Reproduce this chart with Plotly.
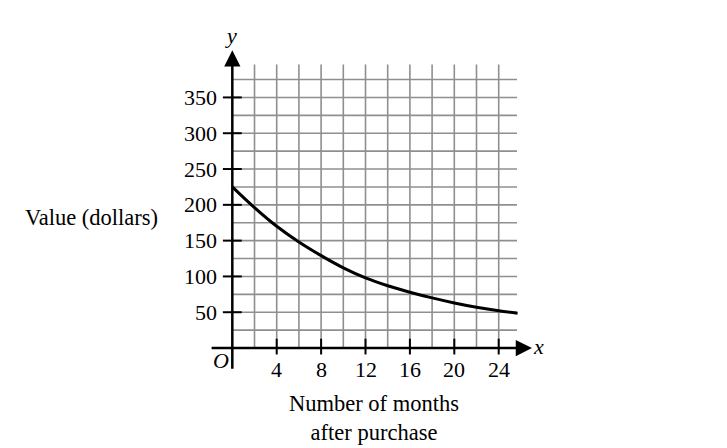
import plotly.graph_objects as go

# valores (meses após a compra x valor em dólares)
months = [0, 2, 4, 6, 8, 10, 12, 14, 16, 18, 20, 22, 24, 25.7]
value = [225, 196, 170, 148, 129, 112, 98, 87, 78, 70, 63, 57, 52, 48.5]

x_ticks = [4, 8, 12, 16, 20, 24]
y_ticks = [50, 100, 150, 200, 250, 300, 350]
x_grid = list(range(2, 25, 2))
y_grid = list(range(25, 376, 25))

FONT = "Liberation Serif"
GRID = "#8f8f8f"

fig = go.Figure()

shapes = []
# grade vertical e horizontal
for gx in x_grid:
    shapes.append(dict(type="line", x0=gx, x1=gx, y0=0, y1=396,
                       line=dict(color=GRID, width=1.6), layer="below"))
for gy in y_grid:
    shapes.append(dict(type="line", x0=0, x1=25.65, y0=gy, y1=gy,
                       line=dict(color=GRID, width=1.6), layer="below"))
# marcas dos eixos
for ty in y_ticks:
    shapes.append(dict(type="line", x0=-0.85, x1=0.85, y0=ty, y1=ty,
                       line=dict(color="black", width=2)))
for tx in x_ticks:
    shapes.append(dict(type="line", x0=tx, x1=tx, y0=-9, y1=13,
                       line=dict(color="black", width=2)))

fig.add_trace(go.Scatter(x=months, y=value, mode="lines",
                         line=dict(color="black", width=3, shape="spline"),
                         hoverinfo="skip"))

annotations = []
# eixos com setas
annotations.append(dict(x=0, y=416, ax=0, ay=-31, xref="x", yref="y",
                        axref="x", ayref="y", showarrow=True, arrowhead=2,
                        arrowsize=1.3, arrowwidth=2.5, arrowcolor="black", text=""))
annotations.append(dict(x=27.0, y=0, ax=-2.0, ay=0, xref="x", yref="y",
                        axref="x", ayref="y", showarrow=True, arrowhead=2,
                        arrowsize=1.3, arrowwidth=2.5, arrowcolor="black", text=""))

for ty in y_ticks:
    annotations.append(dict(x=-1.2, y=ty, xref="x", yref="y", text=str(ty),
                            showarrow=False, xanchor="right", yanchor="middle"))
for tx in x_ticks:
    annotations.append(dict(x=tx, y=-29.5, xref="x", yref="y", text=str(tx),
                            showarrow=False, xanchor="center", yanchor="middle"))

annotations += [
    dict(x=-1.06, y=-18, text="<i>O</i>", showarrow=False),
    dict(x=-0.12, y=437, text="<i>y</i>", showarrow=False),
    dict(x=27.6, y=2, text="<i>x</i>", showarrow=False),
    dict(x=-12.68, y=183, text="Value (dollars)", showarrow=False,
         font=dict(size=22.5)),
    dict(x=12.8, y=-97.8, text="Number of months<br>after purchase",
         showarrow=False, font=dict(size=22.5)),
]
for a in annotations:
    a.setdefault("xref", "x")
    a.setdefault("yref", "y")

# a página tem 8px de margem, então o gráfico começa em (8, 8)
fig.update_layout(
    width=727, height=448,
    margin=dict(l=0, r=0, t=0, b=0),
    paper_bgcolor="white", plot_bgcolor="white",
    showlegend=False,
    font=dict(family=FONT, size=22, color="black"),
    xaxis=dict(range=[-20.21, 45.29], visible=False, fixedrange=True),
    yaxis=dict(range=[-150.8, 474.9], visible=False, fixedrange=True),
    shapes=shapes,
    annotations=annotations,
)

fig.write_html("out.html")
